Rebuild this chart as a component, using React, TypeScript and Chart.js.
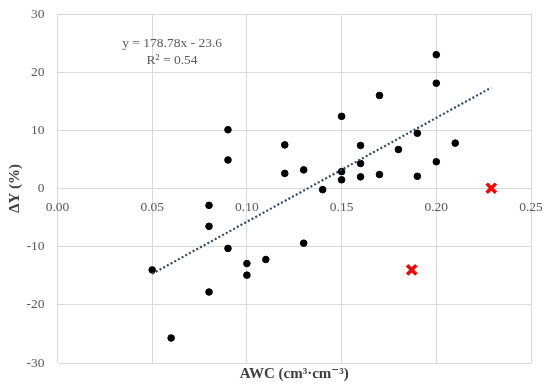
import React, { useEffect, useRef } from "react";
import { Chart, registerables } from "chart.js";

Chart.register(...registerables);

const awc = [0.05, 0.06, 0.08, 0.08, 0.08, 0.09, 0.09, 0.09, 0.10, 0.10, 0.11, 0.12, 0.12, 0.13, 0.13, 0.14, 0.15, 0.15, 0.15, 0.16, 0.16, 0.16, 0.17, 0.17, 0.18, 0.19, 0.19, 0.20, 0.20, 0.20, 0.21];
const deltaY = [-14.0, -25.7, -2.9, -6.5, -17.8, 10.1, 4.9, -10.3, -12.9, -14.9, -12.2, 7.5, 2.6, 3.2, -9.4, -0.2, 12.4, 2.9, 1.5, 7.4, 4.3, 2.0, 16.0, 2.4, 6.7, 9.5, 2.1, 23.0, 18.1, 4.6, 7.8];
const outlierX = [0.229, 0.187];
const outlierY = [0.05, -14.0];
const trendX = [0.05, 0.229];
const trendY = [-14.66, 17.34];
const equationLines = ["y = 178.78x - 23.6", "R\u00b2 = 0.54"];
const xTitle = "AWC (cm\u00b3\u00b7cm\u207b\u00b3)";
const yTitle = "\u0394Y (%)";

const FONT = "'Liberation Serif', 'DejaVu Serif', serif";

const textPlugin = {
  id: "texts",
  afterDraw(chart: any) {
    const ctx = chart.ctx;
    const ca = chart.chartArea;
    const xs = chart.scales.x;
    const ys = chart.scales.y;
    ctx.save();
    ctx.fillStyle = "#595959";
    ctx.font = `13.5px ${FONT}`;
    ctx.textAlign = "center";
    ctx.textBaseline = "middle";
    const ex = xs.getPixelForValue(0.0605);
    ctx.fillText(equationLines[0], ex, ys.getPixelForValue(25.0));
    ctx.fillText(equationLines[1], ex, ys.getPixelForValue(22.0));
    ctx.fillStyle = "#404040";
    ctx.font = `bold 15px ${FONT}`;
    ctx.fillText(xTitle, (ca.left + ca.right) / 2, 374);
    ctx.translate(15, (ca.top + ca.bottom) / 2);
    ctx.rotate(-Math.PI / 2);
    ctx.fillText(yTitle, 0, 0);
    ctx.restore();
  },
};

export default function App() {
  const ref = useRef<HTMLCanvasElement>(null);
  useEffect(() => {
    if (!ref.current) return;
    const chart = new Chart(ref.current, {
      type: "scatter",
      data: {
        datasets: [
          {
            label: "trend",
            type: "line",
            data: trendX.map((x, i) => ({ x, y: trendY[i] })),
            borderColor: "#2e4a66",
            borderWidth: 2.2,
            borderDash: [2, 2.2],
            pointRadius: 0,
            fill: false,
          },
          {
            label: "data",
            data: awc.map((x, i) => ({ x, y: deltaY[i] })),
            backgroundColor: "#000000",
            borderColor: "#000000",
            pointRadius: 3.3,
            pointStyle: "circle",
          },
          {
            label: "outliers",
            data: outlierX.map((x, i) => ({ x, y: outlierY[i] })),
            backgroundColor: "#ff0000",
            borderColor: "#ff0000",
            borderWidth: 3.5,
            pointRadius: 6.5,
            pointStyle: "crossRot",
          },
        ],
      },
      options: {
        animation: false,
        responsive: false,
        maintainAspectRatio: false,
        layout: { padding: { top: 14, right: 19, bottom: 21, left: 0 } },
        plugins: { legend: { display: false }, tooltip: { enabled: false } },
        scales: {
          x: {
            type: "linear",
            min: 0,
            max: 0.25,
            position: { y: 0 } as any,
            ticks: {
              stepSize: 0.05,
              color: "#595959",
              font: { family: FONT, size: 13.5 },
              padding: 11,
              callback: (v: any) => Number(v).toFixed(2),
            },
            grid: { color: "#d9d9d9", drawTicks: false, lineWidth: 1 },
            border: { display: false },
            afterFit: (s: any) => {
              s.paddingTop = 0;
              s.paddingBottom = 0;
              s.paddingLeft = 0;
              s.paddingRight = 0;
            },
          },
          y: {
            type: "linear",
            min: -30,
            max: 30,
            ticks: {
              stepSize: 10,
              color: "#595959",
              font: { family: FONT, size: 13.5 },
              padding: 13,
            },
            grid: { color: "#d9d9d9", drawTicks: false, lineWidth: 1 },
            border: { display: false },
            afterFit: (s: any) => {
              s.width = 57.5;
              s.paddingTop = 0;
              s.paddingBottom = 0;
            },
          },
        },
      },
      plugins: [textPlugin],
    } as any);
    return () => chart.destroy();
  }, []);
  return (
    <div style={{ position: "fixed", left: 0, top: 0, width: 550, height: 384, background: "#fff" }}>
      <canvas ref={ref} width={550} height={384} style={{ width: 550, height: 384 }} />
    </div>
  );
}
